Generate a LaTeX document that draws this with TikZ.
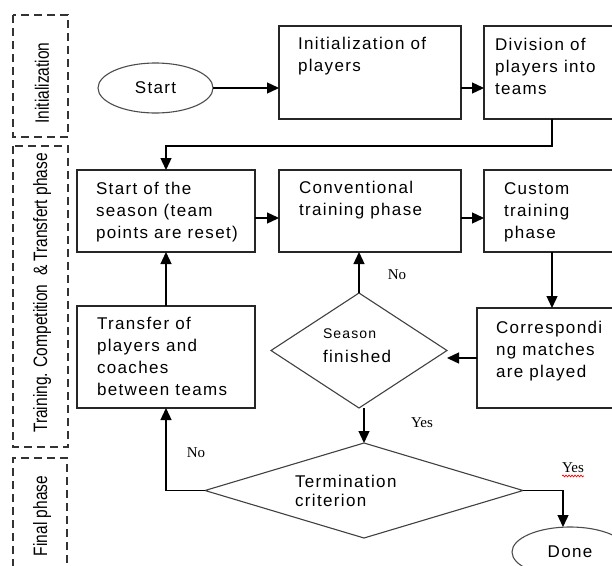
\documentclass[tikz,border=0pt]{standalone}
\usepackage{fontspec}
\setmainfont{Liberation Sans}[LetterSpace=8]
\newfontfamily\plainsans{Liberation Sans}
\newfontfamily\serifl{Liberation Serif}
\usetikzlibrary{shapes.geometric,arrows.meta,decorations.pathmorphing}
\newcommand\tbx[1]{\parbox[t]{200pt}{\raggedright #1}}
\begin{document}
\begin{tikzpicture}[x=1pt,y=-1pt,
  every node/.style={inner sep=0pt, outer sep=0pt},
  box/.style={draw=black!85, line width=1.3pt, rectangle},
  dia/.style={draw=black!75, line width=1.1pt, diamond},
  oval/.style={draw=black!70, line width=1.1pt, ellipse, font=\fontsize{17}{20}\selectfont},
  txt/.style={anchor=base west, font=\fontsize{17}{22}\selectfont},
  lbl/.style={font=\serifl\fontsize{15}{15}\selectfont},
  phlbl/.style={rotate=90, font=\plainsans\fontsize{15.5}{16}\selectfont},
  phase/.style={line width=1.6pt, dash pattern=on 8pt off 5pt, draw=black!80},
  arr/.style={-{Triangle[length=12pt,width=11pt]}, line width=1.3pt}
]
\useasboundingbox (0,0) rectangle (612,565);
\clip (0,0) rectangle (612,565);

% phase frames
\draw[phase] (13,15) rectangle (68,137);
\draw[phase] (13,146) rectangle (68,447);
\draw[phase] (13,580) -- (13,458) -- (67,458) -- (67,580);
\node[phlbl] (ph1) at (42,83) {\scalebox{1}[1.25]{Initialization}};
\node[phlbl] (ph2) at (42,293) {\scalebox{1}[1.25]{Training. Competition\ \ \& Transfert phase}};
\node[phlbl] (ph3) at (42,516) {\scalebox{1}[1.25]{Final phase}};

% shapes
\node[oval, minimum width=115pt, minimum height=50pt] (start) at (155.5,88) {Start};
\node[box, minimum width=182pt, minimum height=93pt] (init) at (370,72.5) {};
\node[box, minimum width=136pt, minimum height=93pt] (div) at (552,72.5) {};
\node[box, minimum width=178pt, minimum height=82pt] (sos) at (166,211) {};
\node[box, minimum width=182pt, minimum height=82pt] (conv) at (370,211) {};
\node[box, minimum width=136pt, minimum height=82pt] (custom) at (552,211) {};
\node[box, minimum width=178pt, minimum height=102pt] (transfer) at (166,357) {};
\node[box, minimum width=143pt, minimum height=100pt] (corr) at (548.5,358) {};
\node[dia, minimum width=176pt, minimum height=115pt] (sf) at (359,350.5) {};
\node[dia, minimum width=318pt, minimum height=95pt] (term) at (364,490.5) {};
\node[oval, minimum width=116pt, minimum height=50pt] (done) at (570,552) {Done};

% texts
\node[txt] (tinit) at (298,49) {\tbx{Initialization of\\players}};
\node[txt] (tdiv) at (495,50) {\tbx{Division of\\players into\\teams}};
\node[txt] (tsos) at (96,194) {\tbx{Start of the\\season (team\\points are reset)}};
\node[txt] (tconv) at (299,193) {\tbx{Conventional\\training phase}};
\node[txt] (tcus) at (504,194) {\tbx{Custom\\training\\phase}};
\node[txt] (ttr) at (97,329) {\tbx{Transfer of\\players and\\coaches\\between teams}};
\node[txt] (tcorr) at (496,333) {\tbx{Correspondi\\ng matches\\are played}};
\node[txt] (tsf) at (323,338) {\tbx{{\fontsize{14}{14}\selectfont Season}\\[2pt]finished}};
\node[txt] (tterm) at (295,487) {\tbx{Termination\\[-3pt]criterion}};

% labels
\node[lbl] (no1) at (397,275) {No};
\node[lbl] (yes1) at (422,423) {Yes};
\node[lbl] (no2) at (196,453) {No};
\node[lbl] (yes2) at (573,468) {Yes};
\draw[red, line width=0.7pt, decorate, decoration={snake, amplitude=0.9pt, segment length=3pt}]
  ([yshift=-3pt]yes2.south west) -- ([yshift=-3pt]yes2.south east);

% connectors
\coordinate (r2) at (0,218);
\draw[arr] (start.east) -- (start.east -| init.west);
\draw[arr] (init.east |- start.east) -- (div.west |- start.east);
\draw[arr] (div.south) -- ++(0,27) -| (sos.north);
\draw[arr] (sos.east |- r2) -- (conv.west |- r2);
\draw[arr] (conv.east |- r2) -- (custom.west |- r2);
\draw[arr] (custom.south) -- (custom.south |- corr.north);
\draw[arr] (corr.west) -- (corr.west -| sf.east);
\draw[arr] (sf.north) -- (sf.north |- conv.south);
\draw[arr] (sf.south -| term.north) -- (term.north);
\draw[arr] (term.west) -| (transfer.south);
\draw[arr] (transfer.north) -- (sos.south);
\draw[arr] (term.east) -| ([xshift=-7pt]done.north);
\end{tikzpicture}
\end{document}
